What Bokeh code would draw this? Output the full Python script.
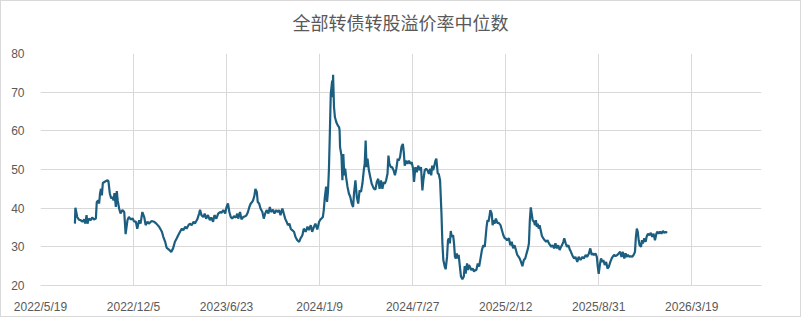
import pandas as pd
from bokeh.plotting import figure
from bokeh.models import FixedTicker, Range1d, ColumnDataSource, Div
from bokeh.layouts import column
from bokeh.embed import file_html
from bokeh.resources import INLINE

title_text = "全部转债转股溢价率中位数"

dates = [
    "2022-08-01", "2022-08-02", "2022-08-06", "2022-08-10", "2022-08-13", "2022-08-17", "2022-08-21", "2022-08-23",
    "2022-08-26", "2022-08-28", "2022-08-31", "2022-09-04", "2022-09-07", "2022-09-11", "2022-09-15", "2022-09-17",
    "2022-09-20", "2022-09-22", "2022-09-24", "2022-09-26", "2022-09-28", "2022-09-30", "2022-10-05", "2022-10-10",
    "2022-10-12", "2022-10-15", "2022-10-18", "2022-10-20", "2022-10-23", "2022-10-25", "2022-10-28", "2022-10-30",
    "2022-11-01", "2022-11-04", "2022-11-07", "2022-11-11", "2022-11-15", "2022-11-18", "2022-11-22", "2022-11-25",
    "2022-11-29", "2022-12-03", "2022-12-06", "2022-12-10", "2022-12-13", "2022-12-17", "2022-12-20", "2022-12-24",
    "2022-12-28", "2022-12-31", "2023-01-04", "2023-01-07", "2023-01-13", "2023-01-18", "2023-01-23", "2023-01-29",
    "2023-02-04", "2023-02-07", "2023-02-11", "2023-02-14", "2023-02-19", "2023-02-24", "2023-02-28", "2023-03-04",
    "2023-03-08", "2023-03-11", "2023-03-15", "2023-03-19", "2023-03-22", "2023-03-26", "2023-03-29", "2023-04-02",
    "2023-04-05", "2023-04-09", "2023-04-13", "2023-04-16", "2023-04-18", "2023-04-21", "2023-04-25", "2023-04-27",
    "2023-04-30", "2023-05-04", "2023-05-07", "2023-05-10", "2023-05-14", "2023-05-18", "2023-05-21", "2023-05-25",
    "2023-05-28", "2023-06-01", "2023-06-05", "2023-06-09", "2023-06-12", "2023-06-16", "2023-06-20", "2023-06-23",
    "2023-06-26", "2023-06-29", "2023-07-02", "2023-07-05", "2023-07-09", "2023-07-13", "2023-07-16", "2023-07-18",
    "2023-07-22", "2023-07-25", "2023-07-29", "2023-08-02", "2023-08-05", "2023-08-08", "2023-08-11", "2023-08-14",
    "2023-08-17", "2023-08-19", "2023-08-22", "2023-08-24", "2023-08-27", "2023-08-29", "2023-09-01", "2023-09-04",
    "2023-09-08", "2023-09-11", "2023-09-14", "2023-09-17", "2023-09-21", "2023-09-24", "2023-09-27", "2023-10-01",
    "2023-10-04", "2023-10-08", "2023-10-11", "2023-10-14", "2023-10-17", "2023-10-21", "2023-10-24", "2023-10-27",
    "2023-10-30", "2023-11-02", "2023-11-05", "2023-11-08", "2023-11-11", "2023-11-15", "2023-11-18", "2023-11-22",
    "2023-11-26", "2023-11-29", "2023-12-03", "2023-12-06", "2023-12-10", "2023-12-14", "2023-12-17", "2023-12-21",
    "2023-12-24", "2023-12-28", "2023-12-31", "2024-01-04", "2024-01-08", "2024-01-11", "2024-01-13", "2024-01-16",
    "2024-01-18", "2024-01-20", "2024-01-23", "2024-01-25", "2024-01-27", "2024-01-29", "2024-01-31", "2024-02-02",
    "2024-02-05", "2024-02-06", "2024-02-07", "2024-02-09", "2024-02-11", "2024-02-14", "2024-02-17", "2024-02-20",
    "2024-02-21", "2024-02-22", "2024-02-25", "2024-02-27", "2024-02-29", "2024-03-02", "2024-03-04", "2024-03-06",
    "2024-03-09", "2024-03-12", "2024-03-15", "2024-03-18", "2024-03-21", "2024-03-23", "2024-03-26", "2024-03-29",
    "2024-04-01", "2024-04-04", "2024-04-07", "2024-04-10", "2024-04-13", "2024-04-15", "2024-04-17", "2024-04-19",
    "2024-04-21", "2024-04-24", "2024-04-27", "2024-04-30", "2024-05-03", "2024-05-05", "2024-05-08", "2024-05-11",
    "2024-05-14", "2024-05-17", "2024-05-20", "2024-05-23", "2024-05-26", "2024-05-28", "2024-05-31", "2024-06-03",
    "2024-06-05", "2024-06-07", "2024-06-10", "2024-06-13", "2024-06-16", "2024-06-19", "2024-06-22", "2024-06-25",
    "2024-06-27", "2024-06-30", "2024-07-03", "2024-07-06", "2024-07-08", "2024-07-10", "2024-07-13", "2024-07-16",
    "2024-07-19", "2024-07-22", "2024-07-25", "2024-07-28", "2024-07-30", "2024-08-02", "2024-08-05", "2024-08-08",
    "2024-08-11", "2024-08-14", "2024-08-17", "2024-08-19", "2024-08-22", "2024-08-25", "2024-08-28", "2024-08-31",
    "2024-09-03", "2024-09-05", "2024-09-07", "2024-09-09", "2024-09-11", "2024-09-14", "2024-09-16", "2024-09-19",
    "2024-09-21", "2024-09-24", "2024-09-27", "2024-09-29", "2024-10-01", "2024-10-04", "2024-10-06", "2024-10-09",
    "2024-10-11", "2024-10-13", "2024-10-15", "2024-10-17", "2024-10-19", "2024-10-22", "2024-10-24", "2024-10-26",
    "2024-10-28", "2024-10-30", "2024-11-01", "2024-11-03", "2024-11-06", "2024-11-08", "2024-11-11", "2024-11-14",
    "2024-11-16", "2024-11-18", "2024-11-21", "2024-11-23", "2024-11-25", "2024-11-27", "2024-11-30", "2024-12-03",
    "2024-12-06", "2024-12-08", "2024-12-11", "2024-12-14", "2024-12-17", "2024-12-20", "2024-12-23", "2024-12-26",
    "2024-12-29", "2024-12-31", "2025-01-02", "2025-01-04", "2025-01-06", "2025-01-08", "2025-01-10", "2025-01-13",
    "2025-01-15", "2025-01-17", "2025-01-19", "2025-01-22", "2025-01-25", "2025-01-28", "2025-02-01", "2025-02-04",
    "2025-02-07", "2025-02-10", "2025-02-12", "2025-02-15", "2025-02-19", "2025-02-22", "2025-02-25", "2025-02-28",
    "2025-03-03", "2025-03-06", "2025-03-09", "2025-03-12", "2025-03-14", "2025-03-17", "2025-03-20", "2025-03-23",
    "2025-03-26", "2025-03-29", "2025-04-01", "2025-04-03", "2025-04-05", "2025-04-07", "2025-04-09", "2025-04-11",
    "2025-04-14", "2025-04-16", "2025-04-18", "2025-04-20", "2025-04-22", "2025-04-24", "2025-04-26", "2025-04-29",
    "2025-05-01", "2025-05-04", "2025-05-07", "2025-05-10", "2025-05-13", "2025-05-16", "2025-05-19", "2025-05-21",
    "2025-05-24", "2025-05-27", "2025-05-30", "2025-06-02", "2025-06-05", "2025-06-08", "2025-06-11", "2025-06-13",
    "2025-06-16", "2025-06-18", "2025-06-21", "2025-06-24", "2025-06-27", "2025-06-30", "2025-07-01", "2025-07-05",
    "2025-07-09", "2025-07-12", "2025-07-16", "2025-07-19", "2025-07-23", "2025-07-27", "2025-07-30", "2025-08-03",
    "2025-08-06", "2025-08-10", "2025-08-13", "2025-08-16", "2025-08-18", "2025-08-21", "2025-08-24", "2025-08-27",
    "2025-08-29", "2025-08-31", "2025-09-03", "2025-09-05", "2025-09-08", "2025-09-10", "2025-09-13", "2025-09-16",
    "2025-09-19", "2025-09-22", "2025-09-25", "2025-09-28", "2025-09-30", "2025-10-03", "2025-10-06", "2025-10-10",
    "2025-10-13", "2025-10-16", "2025-10-19", "2025-10-22", "2025-10-25", "2025-10-28", "2025-10-30", "2025-11-02",
    "2025-11-05", "2025-11-08", "2025-11-11", "2025-11-14", "2025-11-17", "2025-11-19", "2025-11-21", "2025-11-23",
    "2025-11-25", "2025-11-27", "2025-11-30", "2025-12-02", "2025-12-04", "2025-12-07", "2025-12-10", "2025-12-12",
    "2025-12-15", "2025-12-18", "2025-12-21", "2025-12-24", "2025-12-27", "2025-12-30", "2026-01-02", "2026-01-04",
    "2026-01-07", "2026-01-10", "2026-01-13", "2026-01-16", "2026-01-19", "2026-01-22", "2026-01-25",
]

premium = [
    36.0, 40.1, 37.7, 37.0, 36.9, 36.5, 37.1, 36.0,
    38.2, 36.0, 37.3, 36.9, 37.6, 37.1, 37.3, 41.6,
    42.0, 41.2, 43.8, 45.0, 43.3, 46.5, 46.9, 47.2,
    47.0, 43.8, 42.5, 42.9, 42.0, 43.9, 40.3, 44.4,
    42.0, 39.9, 38.6, 39.5, 39.0, 33.3, 36.9, 37.7,
    37.1, 37.3, 36.6, 36.5, 34.7, 36.9, 36.0, 39.0,
    37.7, 35.6, 36.5, 36.0, 36.7, 36.5, 36.0, 35.2,
    33.9, 32.6, 31.3, 29.8, 29.3, 28.7, 29.6, 31.3,
    32.2, 33.0, 33.9, 34.7, 34.3, 35.2, 34.7, 35.6,
    36.0, 35.6, 36.5, 36.0, 36.5, 37.1, 38.6, 39.6,
    38.2, 37.7, 38.6, 37.3, 38.2, 36.9, 37.6, 36.5,
    38.2, 37.3, 38.6, 39.0, 38.8, 39.5, 38.6, 40.3,
    41.2, 39.0, 37.7, 37.3, 37.9, 37.6, 38.6, 37.3,
    39.0, 37.1, 37.7, 37.9, 38.2, 39.0, 40.3, 41.2,
    41.6, 42.0, 43.3, 45.0, 44.2, 41.6, 41.2, 39.9,
    39.0, 37.3, 38.6, 39.5, 38.6, 40.3, 39.0, 39.6,
    38.6, 39.5, 39.0, 39.5, 38.2, 39.9, 38.6, 37.3,
    36.5, 35.6, 36.0, 34.7, 34.3, 33.9, 32.6, 31.7,
    31.3, 32.2, 33.0, 34.7, 33.9, 35.2, 34.3, 35.6,
    33.9, 35.2, 36.0, 34.5, 36.5, 37.1, 37.3, 37.7,
    39.5, 42.5, 45.6, 41.6, 44.2, 49.8, 59.2, 69.5,
    73.0, 68.7, 74.5, 66.1, 63.5, 62.2, 61.4, 60.9,
    60.1, 55.8, 53.6, 47.2, 54.0, 48.5, 50.2, 48.0,
    45.5, 43.8, 42.9, 41.2, 40.3, 43.8, 47.2, 42.9,
    41.2, 44.6, 44.2, 46.3, 49.8, 51.5, 57.5, 50.6,
    52.8, 49.8, 48.0, 46.3, 45.5, 45.0, 44.8, 46.8,
    47.6, 45.0, 47.2, 45.0, 46.8, 46.3, 47.2, 48.9,
    53.6, 51.5, 50.6, 50.6, 49.8, 48.5, 50.2, 52.8,
    52.3, 53.2, 55.8, 56.6, 54.5, 51.0, 52.3, 51.5,
    52.3, 51.5, 51.9, 50.2, 46.8, 50.6, 49.3, 51.0,
    49.8, 50.6, 44.6, 47.2, 49.8, 50.2, 49.8, 48.9,
    50.2, 48.5, 51.0, 49.8, 50.6, 52.3, 52.8, 48.9,
    48.9, 47.2, 38.6, 30.9, 26.6, 24.9, 24.2, 27.4,
    31.7, 32.2, 30.9, 34.1, 32.6, 33.0, 30.9, 27.4,
    27.0, 28.3, 27.0, 27.9, 24.4, 22.3, 21.6, 22.3,
    25.0, 23.1, 25.7, 24.0, 25.3, 24.9, 24.0, 24.4,
    23.6, 24.0, 24.0, 25.7, 24.9, 27.0, 29.2, 30.4,
    30.0, 32.6, 35.2, 36.9, 36.5, 37.7, 39.5, 38.6,
    35.6, 36.9, 36.0, 37.3, 36.2, 36.2, 35.6, 34.3,
    33.0, 32.2, 32.2, 31.7, 32.2, 30.4, 31.3, 29.6,
    30.4, 29.2, 27.9, 27.4, 27.0, 26.1, 25.0, 26.6,
    27.0, 28.3, 29.6, 30.9, 36.9, 40.2, 38.6, 36.9,
    36.5, 35.6, 36.9, 35.2, 36.0, 34.7, 35.6, 33.9,
    32.8, 32.2, 31.7, 31.3, 31.7, 30.9, 30.4, 30.0,
    30.4, 29.6, 30.9, 29.6, 30.4, 29.2, 30.0, 30.4,
    31.3, 32.2, 30.9, 30.0, 30.4, 29.2, 29.1, 27.9,
    27.0, 27.4, 26.1, 27.4, 26.6, 27.4, 27.0, 27.9,
    27.4, 28.3, 29.6, 27.9, 28.3, 27.9, 28.3, 27.4,
    24.9, 23.0, 25.7, 27.0, 26.1, 26.6, 25.3, 26.1,
    24.4, 24.9, 26.1, 27.0, 27.4, 27.9, 27.6, 27.9,
    28.3, 28.7, 27.4, 28.7, 27.0, 28.3, 27.4, 27.9,
    27.4, 27.6, 27.4, 27.9, 28.7, 32.6, 34.7, 33.9,
    31.7, 30.4, 30.0, 31.7, 30.9, 32.2, 31.3, 32.6,
    33.4, 33.0, 33.6, 32.6, 33.4, 31.7, 33.4, 33.9,
    33.4, 33.9, 33.4, 34.1, 33.6, 33.9, 33.6,
]

x_tick_labels = ["2022/5/19", "2022/12/5", "2023/6/23", "2024/1/9",
                 "2024/7/27", "2025/2/12", "2025/8/31", "2026/3/19"]
x_axis_end = "2026-08-16"
y_ticks = [20, 30, 40, 50, 60, 70, 80]

src = ColumnDataSource(dict(date=pd.to_datetime(dates), value=premium))

tick_dt = pd.to_datetime(x_tick_labels, format="%Y/%m/%d")
tick_ms = [float(t.value // 10**6) for t in tick_dt]
end_ms = float(pd.Timestamp(x_axis_end).value // 10**6)

title_div = Div(text=title_text, width=799, height=42, margin=0,
                styles={"text-align": "center", "font-family": "'Noto Sans CJK SC'",
                        "font-size": "18px", "line-height": "42px",
                        "color": "#595959", "background-color": "white"})

p = figure(width=799, height=273, x_axis_type="datetime",
           output_backend="svg", toolbar_location=None,
           x_range=Range1d(tick_ms[0], end_ms), y_range=Range1d(20, 80),
           min_border_left=39, min_border_right=39,
           min_border_top=10, min_border_bottom=30)
p.margin = 0

p.line("date", "value", source=src, line_color="#1B5E80", line_width=2.2)

grid_color = "#d9d9d9"
p.xaxis.ticker = FixedTicker(ticks=tick_ms)
p.xaxis.major_label_overrides = {t: lab for t, lab in zip(tick_ms, x_tick_labels)}
p.yaxis.ticker = FixedTicker(ticks=y_ticks)

for ax in (p.xaxis[0], p.yaxis[0]):
    ax.major_tick_line_color = None
    ax.minor_tick_line_color = None
    ax.major_label_text_font = "Liberation Sans"
    ax.major_label_text_font_size = "12px"
    ax.major_label_text_color = "#595959"
p.xaxis.axis_line_color = grid_color
p.yaxis.axis_line_color = None
p.xaxis.major_label_standoff = 8
p.yaxis.major_label_standoff = 10

p.xgrid.grid_line_color = grid_color
p.ygrid.grid_line_color = grid_color
p.outline_line_color = None
p.background_fill_color = "white"
p.border_fill_color = "white"

layout = column(title_div, p, spacing=0,
                styles={"border": "1px solid #d9d9d9", "background-color": "white"})

open("out.html", "w").write(file_html(layout, INLINE))
